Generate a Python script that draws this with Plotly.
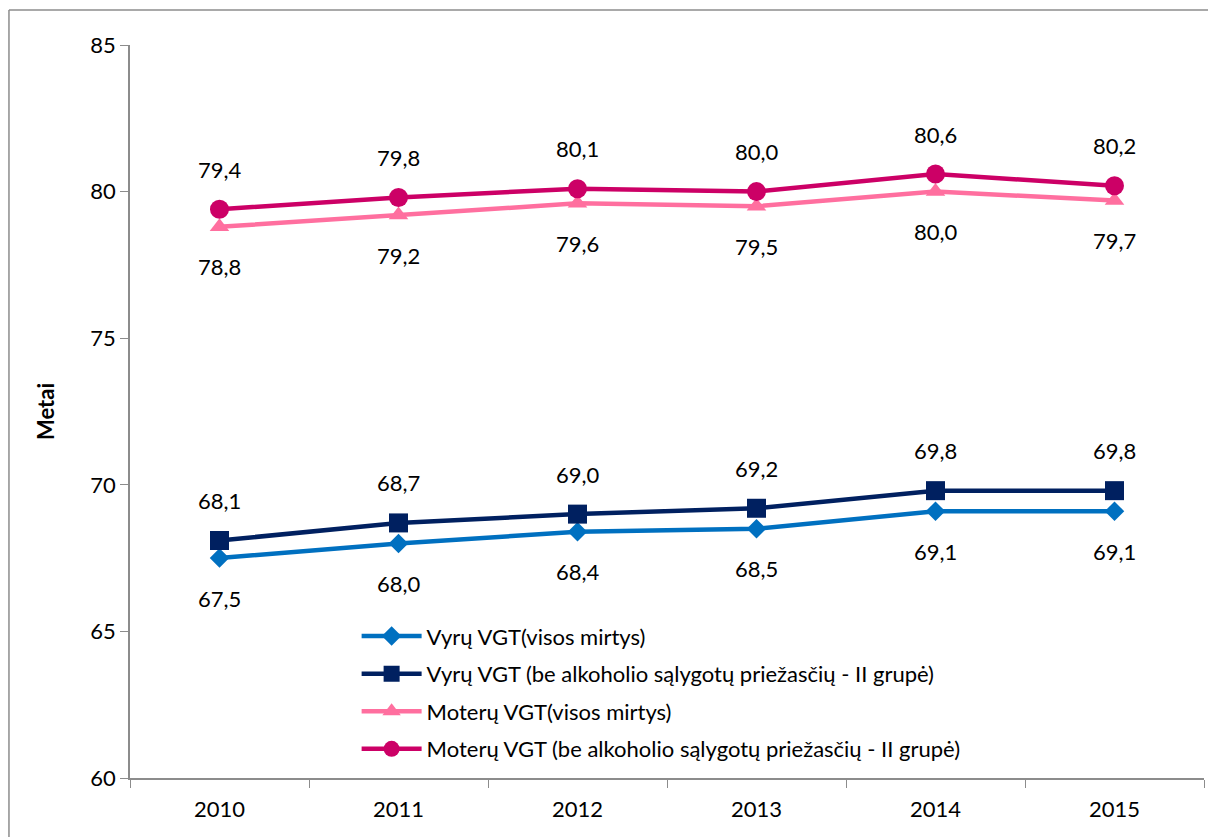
import plotly.graph_objects as go

years = ["2010", "2011", "2012", "2013", "2014", "2015"]
vyru_visos = [67.5, 68.0, 68.4, 68.5, 69.1, 69.1]
vyru_be = [68.1, 68.7, 69.0, 69.2, 69.8, 69.8]
moteru_visos = [78.8, 79.2, 79.6, 79.5, 80.0, 79.7]
moteru_be = [79.4, 79.8, 80.1, 80.0, 80.6, 80.2]
y_ticks = [60, 65, 70, 75, 80, 85]

names = [
    "Vyrų VGT(visos mirtys)",
    "Vyrų VGT (be alkoholio sąlygotų priežasčių - II grupė)",
    "Moterų VGT(visos mirtys)",
    "Moterų VGT (be alkoholio sąlygotų priežasčių - II grupė)",
]
series = [vyru_visos, vyru_be, moteru_visos, moteru_be]
colors = ["#0070C0", "#002060", "#FF6F9F", "#CC0066"]
symbols = ["diamond", "square", "triangle-up", "circle"]
msizes = [15, 19, 17, 19]
label_side = [-1, 1, -1, 1]

FONT = "Lato"
FS = 22
fig = go.Figure()
for i, (nm, vals) in enumerate(zip(names, series)):
    fig.add_trace(go.Scatter(
        x=years, y=vals, name=nm, mode="lines+markers",
        line=dict(color=colors[i], width=4.5),
        marker=dict(symbol=symbols[i], size=msizes[i], color=colors[i]),
        legendgroup=f"g{i}",
    ))
    for j, v in enumerate(vals):
        fig.add_annotation(
            x=j, y=v, text=f"{v:.1f}".replace(".", ","), showarrow=False,
            yshift=40 * label_side[i], font=dict(size=FS, color="black", family=FONT),
        )

# chart-area border: left and top edges only (right/bottom lie beyond the page)
fig.add_shape(type="line", xref="paper", yref="paper",
              x0=-0.1127, x1=-0.1127, y0=-0.3, y1=1.0477,
              line=dict(color="#8C8C8C", width=1.5), layer="below")
fig.add_shape(type="line", xref="paper", yref="paper",
              x0=-0.1127, x1=1.3, y0=1.0477, y1=1.0477,
              line=dict(color="#8C8C8C", width=1.5), layer="below")

fig.update_layout(
    width=1208, height=837,
    margin=dict(l=130, r=4, t=45, b=59),
    paper_bgcolor="white", plot_bgcolor="white",
    font=dict(family=FONT, size=FS, color="black"),
    showlegend=True,
    legend=dict(x=0.211, y=0.222, xanchor="left", yanchor="top",
                bgcolor="rgba(0,0,0,0)", font=dict(size=FS, family=FONT),
                itemwidth=60, tracegroupgap=6),
    xaxis=dict(type="category", range=[-0.5, 5.5], showgrid=False,
               showline=True, linecolor="#8C8C8C", linewidth=1.5,
               ticks="outside", tickson="boundaries", ticklen=8, tickcolor="#8C8C8C",
               ticklabelstandoff=11,
               tickfont=dict(size=FS, family=FONT)),
    yaxis=dict(range=[60, 85], tickvals=y_ticks, showgrid=False, zeroline=False,
               showline=True, linecolor="#8C8C8C", linewidth=1.5,
               ticks="outside", ticklen=8, tickcolor="#8C8C8C",
               tickfont=dict(size=FS, family=FONT),
               title=dict(text="<b>Metai</b>", font=dict(size=FS, family=FONT), standoff=30)),
)

fig.write_html("out.html", config={"displayModeBar": False},
               post_script="document.body.style.margin='0';document.body.style.overflow='hidden';")
